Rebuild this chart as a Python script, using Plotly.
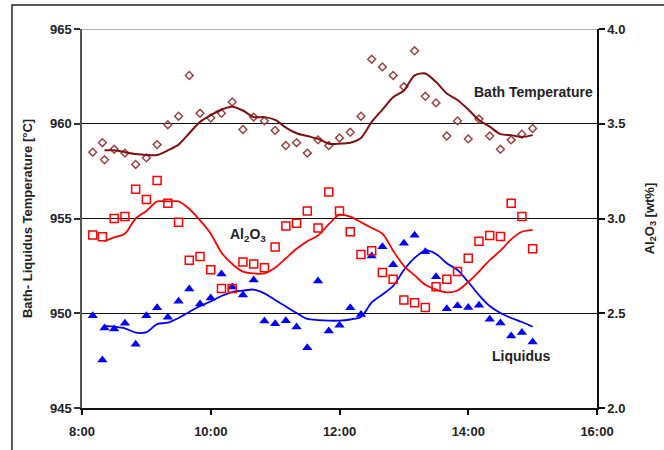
import plotly.graph_objects as go

# Sample times (h:mm)
times = ["8:10", "8:19", "8:21", "8:30", "8:40", "8:50", "9:00", "9:10", "9:20", "9:30",
         "9:40", "9:50", "10:00", "10:10", "10:20", "10:30", "10:40", "10:50", "11:00", "11:10",
         "11:20", "11:30", "11:40", "11:50", "12:00", "12:10", "12:20", "12:30", "12:40", "12:50",
         "13:00", "13:10", "13:20", "13:30", "13:40", "13:50", "14:00", "14:10", "14:20", "14:30",
         "14:40", "14:50", "15:00"]

# Bath temperature [°C]
bath_temp = [958.5, 959.0, 958.1, 958.65, 958.45, 957.85, 958.2, 958.9, 959.95, 960.4,
             962.55, 960.55, 960.3, 960.55, 961.15, 959.7, 960.35, 960.15, 959.65, 958.85,
             959.0, 958.45, 959.15, 958.85, 959.25, 959.55, 960.4, 963.4, 963.0, 962.55,
             961.95, 963.85, 961.45, 961.1, 959.35, 960.15, 959.2, 960.25, 959.35, 958.65,
             959.15, 959.45, 959.75]

# Liquidus temperature [°C]
liquidus = [949.87, 947.53, 949.22, 949.17, 949.47, 948.36, 949.87, 950.29, 949.79, 950.63,
            951.28, 950.49, 950.8, 952.07, 951.39, 950.96, 951.75, 949.59, 949.45, 949.61,
            949.27, 948.18, 951.7, 949.06, 949.37, 950.29, 949.94, 953.02, 953.51, 952.56,
            953.7, 954.12, 953.24, 951.93, 950.24, 950.4, 950.31, 950.42, 949.68, 949.49,
            948.8, 948.99, 948.48]

# Al2O3 concentration [wt%] (no sample at 8:21)
al2o3 = [2.913, 2.904, None, 3.00, 3.01, 3.154, 3.10, 3.20, 3.08, 2.98,
         2.78, 2.80, 2.73, 2.63, 2.63, 2.77, 2.76, 2.74, 2.85, 2.96,
         2.975, 3.04, 2.95, 3.14, 3.04, 2.93, 2.81, 2.83, 2.715, 2.68,
         2.57, 2.555, 2.53, 2.64, 2.68, 2.72, 2.79, 2.88, 2.91, 2.905,
         3.08, 3.01, 2.84]

# Smoothed trends, from 8:21 onwards
trend_times = times[2:]
bath_trend = [958.6, 958.6, 958.5, 958.4, 958.35, 958.35, 958.6, 958.9, 959.5, 960.1,
              960.45, 960.75, 960.9, 960.7, 960.35, 960.35, 960.2, 959.8, 959.5, 959.35,
              959.2, 958.95, 958.95, 959.0, 959.25, 960.1, 960.75, 961.4, 961.75, 962.55,
              962.65, 962.2, 961.6, 961.25, 960.75, 960.2, 959.85, 959.45, 959.4, 959.3,
              959.4]
liquidus_trend = [949.33, 949.29, 949.2, 948.98, 949.0, 949.43, 949.5, 949.75, 950.07, 950.38,
                  950.62, 950.91, 951.12, 951.19, 951.25, 951.05, 950.7, 950.36, 950.01, 949.7,
                  949.64, 949.61, 949.61, 949.67, 949.8, 950.57, 950.99, 951.44, 952.28, 952.92,
                  953.31, 953.13, 952.64, 952.28, 951.65, 950.96, 950.38, 950.01, 949.75, 949.54,
                  949.29]
al2o3_trend = [2.88, 2.90, 2.92, 3.00, 3.04, 3.09, 3.09, 3.09, 3.05, 2.99,
               2.92, 2.82, 2.76, 2.72, 2.71, 2.71, 2.74, 2.79, 2.84, 2.88,
               2.91, 2.97, 3.02, 3.01, 2.98, 2.95, 2.92, 2.83, 2.75, 2.70,
               2.65, 2.625, 2.61, 2.62, 2.665, 2.72, 2.78, 2.83, 2.89, 2.93,
               2.94]

# Axis ticks
x_tick_hours = [8, 10, 12, 14, 16]
x_tick_labels = ["8:00", "10:00", "12:00", "14:00", "16:00"]
temp_ticks = [945, 950, 955, 960, 965]
pct_ticks = [2.0, 2.5, 3.0, 3.5, 4.0]


def to_hours(t):
    h, m = t.split(":")
    return int(h) + int(m) / 60.0


x_all = [to_hours(t) for t in times]
x_trend = [to_hours(t) for t in trend_times]

FONT = "Liberation Sans"
bold = dict(family=FONT, size=13, color="#222222", weight="bold")
label_font = dict(family=FONT, size=14, color="#222222", weight="bold")

fig = go.Figure()

fig.add_trace(go.Scatter(
    x=x_all, y=bath_temp, mode="markers", name="Bath Temperature",
    marker=dict(symbol="diamond-open", size=6, color="#9B4444", line=dict(width=1.5)),
))
fig.add_trace(go.Scatter(
    x=x_trend, y=bath_trend, mode="lines", name="Bath Temperature trend",
    line=dict(color="#7F1010", width=2, shape="spline", smoothing=0.8),
))
fig.add_trace(go.Scatter(
    x=x_all, y=al2o3, mode="markers", name="Al2O3", yaxis="y2",
    marker=dict(symbol="square-open", size=8, color="#FF0000", line=dict(width=1.5)),
))
fig.add_trace(go.Scatter(
    x=x_trend, y=al2o3_trend, mode="lines", name="Al2O3 trend", yaxis="y2",
    line=dict(color="#FF0000", width=1.8, shape="spline", smoothing=0.8),
))
fig.add_trace(go.Scatter(
    x=x_all, y=liquidus, mode="markers", name="Liquidus",
    marker=dict(symbol="triangle-up", size=9, color="#0000FF"),
))
fig.add_trace(go.Scatter(
    x=x_trend, y=liquidus_trend, mode="lines", name="Liquidus trend",
    line=dict(color="#0000FF", width=1.8, shape="spline", smoothing=0.8),
))

fig.update_layout(
    width=664, height=450,
    margin=dict(l=82, r=67, t=29, b=42, autoexpand=False),
    paper_bgcolor="white", plot_bgcolor="white",
    showlegend=False,
    xaxis=dict(
        range=[8, 16], tickvals=x_tick_hours, ticktext=x_tick_labels,
        showgrid=False, zeroline=False, automargin=False,
        showline=True, linecolor="#111111", linewidth=1.5,
        ticks="outside", ticklen=5, tickcolor="#111111", tickwidth=1.5,
        tickfont=bold, ticklabelstandoff=6,
    ),
    yaxis=dict(
        range=[945, 965], tickvals=temp_ticks, automargin=False,
        showgrid=True, gridcolor="#111111", gridwidth=1.2, zeroline=False,
        showline=True, linecolor="#555555", linewidth=1.5,
        ticks="outside", ticklen=6, tickcolor="#333333", tickwidth=1.5,
        tickfont=bold,
        title=dict(text="Bath- Liquidus Temperature [°C]", font=bold, standoff=14),
    ),
    yaxis2=dict(
        range=[2.0, 4.0], tickvals=pct_ticks, tickformat=".1f", ticksuffix="%",
        overlaying="y", side="right", anchor="x", automargin=False,
        showgrid=False, zeroline=False,
        showline=True, linecolor="#111111", linewidth=1.5,
        ticks="outside", ticklen=6, tickcolor="#111111", tickwidth=1.5,
        tickfont=bold,
        title=dict(text="Al<sub>2</sub>O<sub>3</sub> [wt%]", font=bold, standoff=20),
    ),
    shapes=[
        # light top edge of the plotting area
        dict(type="line", xref="paper", yref="y", x0=0, x1=1, y0=965, y1=965,
             line=dict(color="#999999", width=1.5), layer="above"),
        # outer chart frame
        dict(type="rect", xref="paper", yref="paper", x0=-0.136, x1=1.2, y0=-0.2, y1=1.063,
             line=dict(color="#222222", width=1.5), layer="below"),
    ],
    annotations=[
        dict(text="Bath Temperature", x=15.02, y=961.68, xref="x", yref="y",
             showarrow=False, font=label_font),
        dict(text="Al<sub>2</sub>O<sub>3</sub>", x=10.58, y=954.13, xref="x", yref="y",
             showarrow=False, font=label_font),
        dict(text="Liquidus", x=14.82, y=947.74, xref="x", yref="y",
             showarrow=False, font=label_font),
    ],
)

fig.write_html("out.html")
